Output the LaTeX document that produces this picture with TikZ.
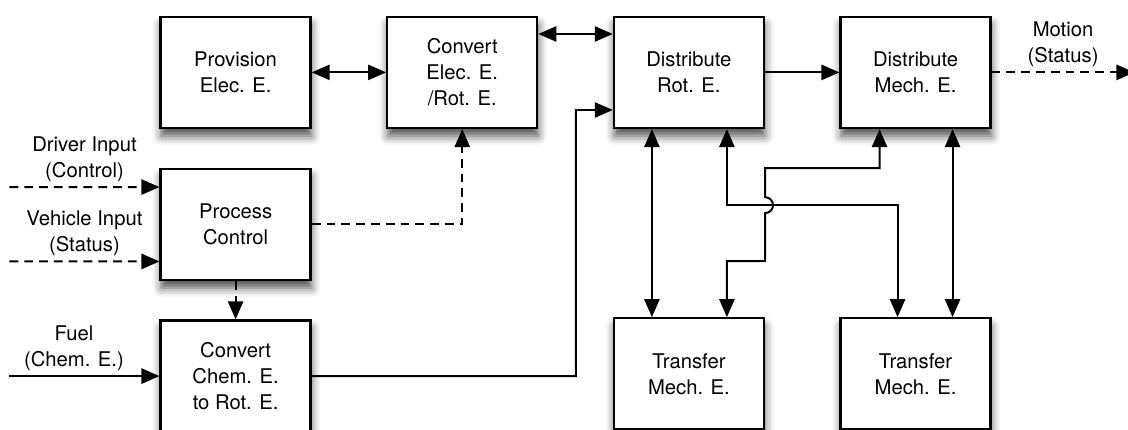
\documentclass[tikz,border=0pt]{standalone}
\usepackage{fontspec}
\setmainfont{TeX Gyre Heros}
\usetikzlibrary{arrows.meta, positioning, calc, shadows.blur}

\begin{document}
\begin{tikzpicture}[
    node distance=0.96cm and 1.86cm,
    box/.style={draw, line width=1.6pt, fill=white, minimum width=3.75cm, minimum height=2.78cm, align=center, font=\fontsize{14.4}{18.5}\selectfont,
        blur shadow={shadow xshift=0.02cm, shadow yshift=-0.2cm, shadow blur radius=0.22cm, shadow opacity=70}},
    arrow/.style={-{Triangle[length=0.45cm, width=0.38cm]}, line width=1.4pt},
    dbl/.style={{Triangle[length=0.45cm, width=0.38cm]}-{Triangle[length=0.45cm, width=0.38cm]}, line width=1.4pt},
    dasharrow/.style={arrow, dash pattern=on 0.22cm off 0.15cm},
    iolabel/.style={font=\fontsize{14.4}{18.5}\selectfont, align=center, inner sep=3pt}
]
\useasboundingbox (0,0) rectangle (28.2,-10.75);

% --- Function blocks ---
\node[box] (prov) at (5.89,-1.81) {Provision\\Elec. E.};
\node[box, right=of prov] (conv) {Convert\\Elec. E.\\/Rot. E.};
\node[box, right=of conv] (dist) {Distribute\\Rot. E.};
\node[box, right=of dist] (mech) {Distribute\\Mech. E.};
\node[box, below=of prov] (proc) {Process\\Control};
\node[box, below=of proc] (chem) {Convert\\Chem. E.\\to Rot. E.};
\node[box, below=4.7cm of dist] (tr1) {Transfer\\Mech. E.};
\node[box, below=4.7cm of mech] (tr2) {Transfer\\Mech. E.};

% Inputs and output
\coordinate (drv) at ($(proc.west)+(-3.75,0.93)$);
\coordinate (veh) at ($(proc.west)+(-3.75,-0.93)$);
\coordinate (fuel) at ($(chem.west)+(-3.75,0)$);
\coordinate (motion) at ($(mech.east)+(3.57,0)$);
\draw[dasharrow] (drv) -- node[iolabel, above] {Driver Input\\(Control)} ([yshift=0.93cm]proc.west);
\draw[dasharrow] (veh) -- node[iolabel, above] {Vehicle Input\\(Status)} ([yshift=-0.93cm]proc.west);
\draw[arrow] (fuel) -- node[iolabel, above, pos=0.43] {Fuel\\(Chem. E.)} (chem);
\draw[dasharrow] (mech) -- node[iolabel, above] {Motion\\(Status)} (motion);

% Energy and control flow
\draw[dbl] (prov) -- (conv);
\draw[dbl] ([yshift=0.96cm]conv.east) -- ([yshift=0.96cm]dist.west);
\draw[arrow] (dist) -- (mech);
\draw[dasharrow] (proc) -| (conv);
\draw[dasharrow] (proc) -- (chem);
\draw[arrow] (chem.east) -| ($(dist.west)+(-0.925,-0.94)$) -- ([yshift=-0.94cm]dist.west);

% Mechanical links
\coordinate (hop) at ($(dist.south east)+(0,-1.9)$);
\draw[dbl] ([xshift=-0.925cm]dist.south) -- ([xshift=-0.925cm]tr1.north);
\draw[dbl] ([xshift=0.95cm]dist.south) |- (hop) -| ([xshift=-0.45cm]tr2.north);
\draw[dbl] ([xshift=0.95cm]tr1.north) |- ($(hop)+(0,-1.4)$) -- ($(hop)+(0,-0.2)$)
    arc[start angle=-90, end angle=90, radius=0.2cm] -- ($(hop)+(0,0.925)$) -| ([xshift=-0.9cm]mech.south);
\draw[dbl] ([xshift=0.925cm]mech.south) -- ([xshift=0.925cm]tr2.north);

\end{tikzpicture}
\end{document}
